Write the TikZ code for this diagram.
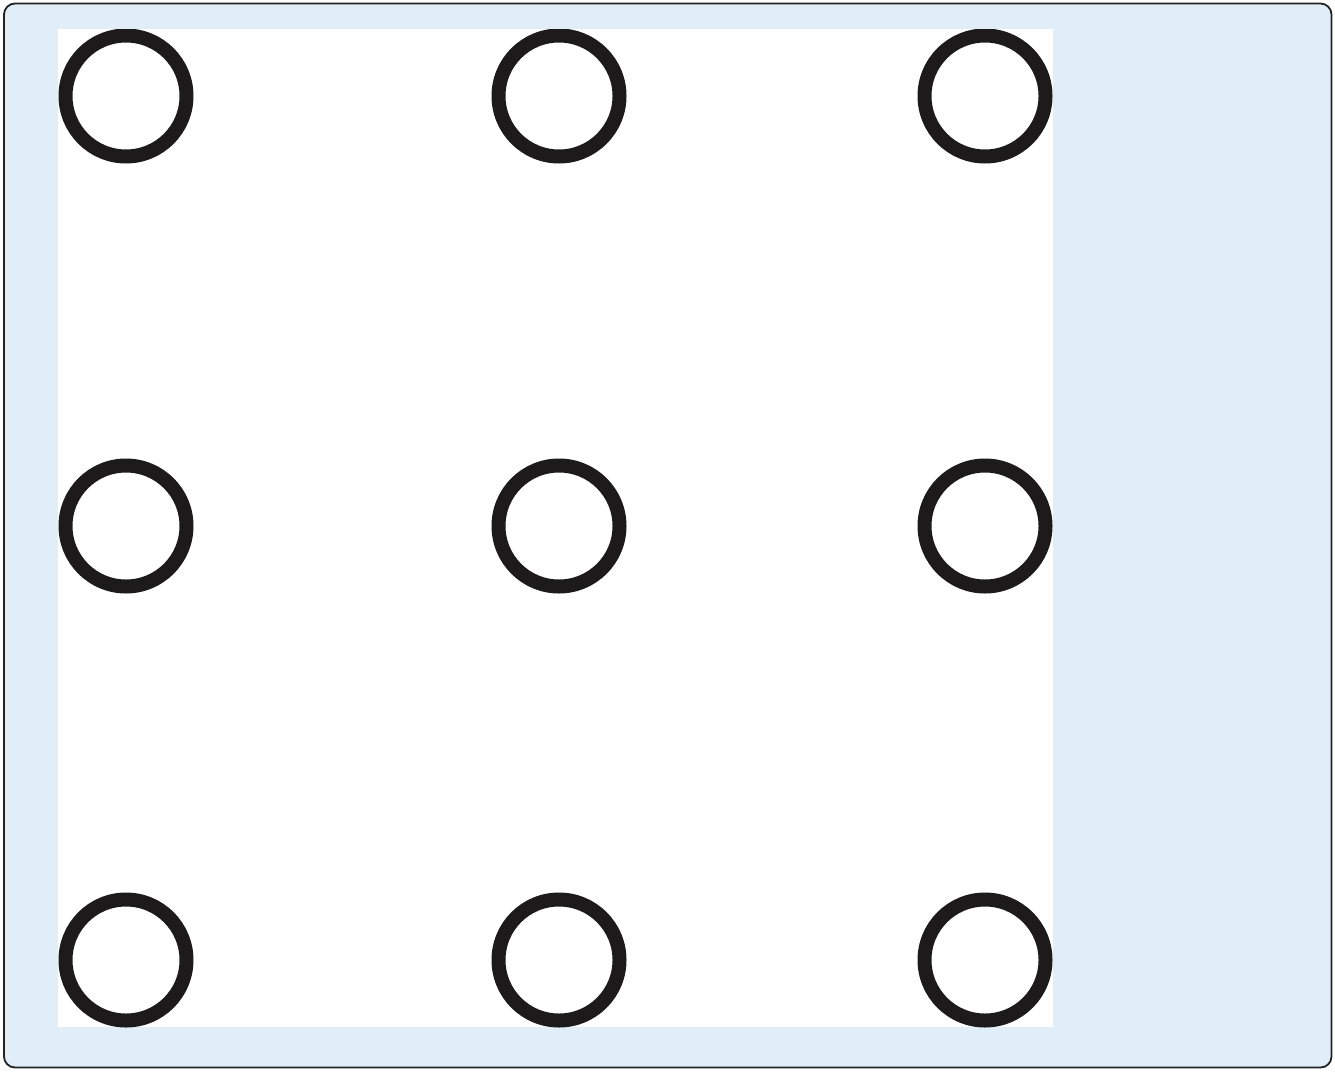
\documentclass[tikz,border=0pt]{standalone}
\definecolor{panelblue}{HTML}{E1EEF7}
\definecolor{ringblack}{HTML}{1C1A1A}
\definecolor{frame}{HTML}{222222}
\tikzset{
  ring/.style={circle, draw=ringblack, line width=14pt, minimum size=121pt, inner sep=0pt, fill=white},
}
\begin{document}
\begin{tikzpicture}[x=1pt,y=-1pt]
\useasboundingbox (0,0) rectangle (1335,1071);
\draw[fill=panelblue, draw=frame, line width=1.8pt, rounded corners=11pt] (4,3.5) rectangle (1331.5,1067.5);
\fill[white] (58,29) rectangle (1053,1027);
\begin{scope}
\clip (58,29) rectangle (1053,1027);
\node[ring] (c11) at (126,96) {};
\node[ring] (c12) at (559,96) {};
\node[ring] (c13) at (985,96) {};
\node[ring] (c21) at (126,526) {};
\node[ring] (c22) at (559,526) {};
\node[ring] (c23) at (985,526) {};
\node[ring] (c31) at (126,960) {};
\node[ring] (c32) at (559,960) {};
\node[ring] (c33) at (985,960) {};
\end{scope}
\end{tikzpicture}
\end{document}
